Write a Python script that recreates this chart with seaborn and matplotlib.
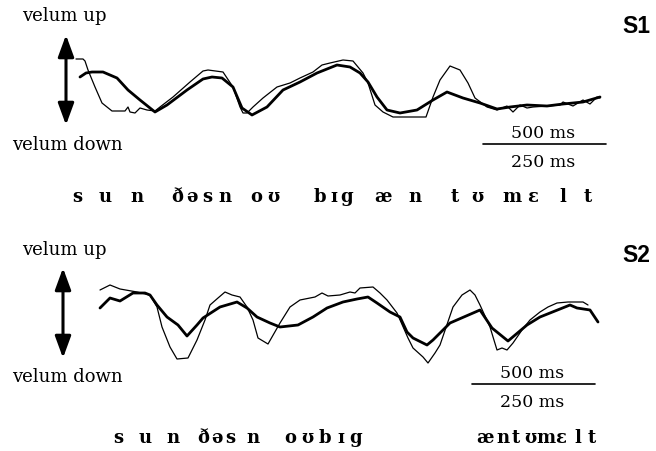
import matplotlib
matplotlib.use("Agg")
import matplotlib.pyplot as plt
import pandas as pd
import seaborn as sns

# ---------------- data (time in px-units, velum position: smaller = higher) -------------
s1_thin_t = [76, 83, 85, 88, 95, 102, 112, 125, 128, 130, 135, 140, 147, 155, 160, 173, 190, 203, 208,
             223, 227, 233, 240, 243, 247, 253, 263, 277, 290, 300, 313, 322, 330, 343, 353, 363, 368,
             375, 383, 393, 407, 426, 433, 440, 450, 460, 468, 475, 487, 497, 507, 513, 520, 527, 533,
             547, 560, 563, 573, 583, 590, 597, 600]
s1_thin_v = [59, 59, 61, 70, 87, 103, 111, 111, 107, 112, 113, 108, 110, 111, 107, 97, 82, 71, 70,
             72, 78, 87, 107, 113, 113, 107, 98, 87, 83, 78, 72, 65, 63, 60, 61, 73, 83,
             105, 112, 117, 117, 117, 97, 80, 66, 70, 83, 98, 107, 110, 106, 112, 105, 108, 107,
             106, 105, 102, 106, 100, 104, 97, 98]
s1_thick_t = [80, 86, 92, 103, 117, 128, 140, 155, 167, 187, 203, 212, 222, 233, 242, 252, 267, 283,
              300, 317, 337, 350, 360, 368, 377, 387, 400, 417, 433, 447, 463, 480, 497, 510, 527,
              547, 563, 583, 600]
s1_thick_v = [77, 73, 72, 72, 78, 90, 100, 112, 105, 90, 79, 77, 78, 87, 108, 115, 107, 90,
              82, 73, 65, 67, 73, 82, 97, 110, 113, 110, 100, 92, 98, 103, 109, 107, 105,
              106, 104, 102, 97]

s2_thin_t = [100, 110, 120, 137, 150, 157, 162, 170, 177, 188, 197, 205, 210, 218, 225, 232, 240, 247,
             253, 258, 268, 280, 290, 300, 315, 322, 328, 340, 350, 355, 360, 373, 380, 387, 397,
             408, 413, 423, 428, 435, 440, 453, 462, 470, 475, 480, 490, 497, 502, 507, 513, 522,
             530, 540, 548, 557, 568, 583, 588]
s2_thin_v = [290, 285, 289, 292, 295, 307, 327, 347, 359, 358, 340, 320, 305, 298, 292, 295, 297, 307,
             320, 338, 344, 323, 307, 300, 297, 293, 296, 295, 292, 293, 288, 287, 293, 300, 313,
             338, 348, 357, 363, 353, 345, 307, 295, 290, 295, 305, 327, 350, 348, 350, 343, 330,
             320, 312, 307, 303, 302, 302, 305]
s2_thick_t = [100, 110, 120, 133, 145, 150, 157, 167, 178, 187, 197, 203, 220, 237, 247, 257, 270, 280,
              298, 313, 327, 343, 357, 368, 377, 390, 400, 407, 413, 427, 433, 440, 450, 480, 492,
              508, 527, 540, 550, 570, 577, 590, 598]
s2_thick_v = [308, 298, 301, 293, 293, 295, 305, 317, 325, 336, 325, 318, 307, 302, 308, 317, 323, 327,
              325, 317, 308, 302, 299, 297, 303, 312, 317, 332, 338, 345, 340, 333, 323, 310, 328,
              341, 325, 317, 313, 305, 308, 310, 322]

s1_segments = ["s", "u", "n", "ð", "ə", "s", "n", "o", "ʊ", "b", "ɪ", "g", "æ", "n", "t", "ʊ", "m", "ɛ", "l", "t"]
s1_seg_pos = [77, 105, 137, 177, 192, 207, 225, 256, 273, 320, 334, 347, 383, 415, 455, 477, 512, 533, 563, 588]
s2_segments = ["s", "u", "n", "ð", "ə", "s", "n", "o", "ʊ", "b", "ɪ", "g", "æ", "n", "t", "ʊ", "m", "ɛ", "l", "t"]
s2_seg_pos = [118, 145, 173, 203, 217, 230, 253, 290, 307, 325, 341, 356, 485, 503, 516, 530, 546, 561, 578, 592]

# ---------------- figure ----------------
sns.set_theme(style="white")
plt.rcParams["text.color"] = "black"
SERIF = ["DejaVu Serif", "Liberation Serif"]
SANS = ["Liberation Sans", "DejaVu Sans"]

fig = plt.figure(figsize=(6.56, 4.51), dpi=100)
ax = fig.add_axes([0, 0, 1, 1])


def trace(t, v, lw):
    df = pd.DataFrame({"time": t, "velum": v})
    sns.lineplot(data=df, x="time", y="velum", ax=ax, color="black", lw=lw,
                 estimator=None, sort=False, legend=False)


trace(s1_thin_t, s1_thin_v, 0.9)
trace(s1_thick_t, s1_thick_v, 2.0)
trace(s2_thin_t, s2_thin_v, 0.9)
trace(s2_thick_t, s2_thick_v, 2.0)

ax.set_xlim(0, 656)
ax.set_ylim(451, 0)
ax.axis("off")

arrow = dict(arrowstyle="<|-|>,head_length=0.6,head_width=0.22", color="black", lw=2.2,
             mutation_scale=22, shrinkA=0, shrinkB=0)
for x, ytop, ybot, yup, ydown, s_lab, s_base, sb_x, sb_y, sb_l, sb_r in [
        (66, 35, 125, 21, 150, "S1", 33, 543, 144, 483, 606),
        (63, 268, 358, 255, 382, "S2", 262, 532, 384, 472, 595)]:
    ax.annotate("", xy=(x, ytop), xytext=(x, ybot), arrowprops=arrow)
    ax.text(22, yup, "velum up", family=SERIF, fontsize=13, color="black", ha="left", va="baseline")
    ax.text(12, ydown, "velum down", family=SERIF, fontsize=13, color="black", ha="left", va="baseline")
    ax.text(622, s_base, s_lab, family=SANS, fontsize=16.5, fontweight="bold", color="black",
            ha="left", va="baseline")
    ax.plot([sb_l, sb_r], [sb_y, sb_y], color="black", lw=1.2)
    ax.text(sb_x, sb_y - 6, "500 ms", family=SERIF, fontsize=12.5, color="black", ha="center", va="baseline")
    ax.text(sb_x, sb_y + 23, "250 ms", family=SERIF, fontsize=12.5, color="black", ha="center", va="baseline")

for segs, pos, base in [(s1_segments, s1_seg_pos, 202), (s2_segments, s2_seg_pos, 443)]:
    for ch, xp in zip(segs, pos):
        ax.text(xp, base, ch, family=SERIF, fontsize=13, fontweight="bold", color="black",
                ha="center", va="baseline")

fig.savefig("out.png", dpi=100)
